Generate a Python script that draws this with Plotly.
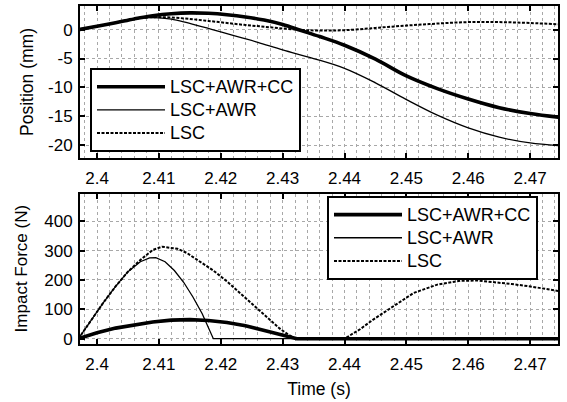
import plotly.graph_objects as go

# ---------------- data ----------------
names = ["LSC+AWR+CC", "LSC+AWR", "LSC"]

# Position (mm)
t_pos_cc = [2.397, 2.4, 2.403, 2.406, 2.409, 2.412, 2.415, 2.418, 2.421, 2.424,
            2.427, 2.43, 2.433, 2.436, 2.44, 2.445, 2.45, 2.455, 2.46, 2.465,
            2.47, 2.475]
pos_cc = [0, 0.6, 1.2, 1.85, 2.4, 2.75, 2.9, 2.82, 2.58, 2.2,
          1.65, 0.9, -0.15, -1.2, -2.7, -5.1, -8.0, -10.2, -12.0, -13.5,
          -14.5, -15.2]

t_pos_awr = [2.397, 2.4, 2.403, 2.406, 2.408, 2.41, 2.412, 2.414, 2.416, 2.418,
             2.42, 2.423, 2.426, 2.43, 2.435, 2.44, 2.445, 2.45, 2.455, 2.46,
             2.465, 2.47, 2.475]
pos_awr = [0, 0.6, 1.2, 1.85, 2.08, 2.05, 1.8, 1.35, 0.8, 0.2,
           -0.4, -1.3, -2.2, -3.5, -5.0, -6.7, -9.2, -12.1, -14.8, -17.0,
           -18.6, -19.6, -20.1]

t_pos_lsc = [2.397, 2.4, 2.403, 2.406, 2.409, 2.412, 2.415, 2.418, 2.421, 2.424,
             2.427, 2.43, 2.433, 2.436, 2.44, 2.445, 2.45, 2.455, 2.46, 2.465,
             2.47, 2.475]
pos_lsc = [0, 0.6, 1.2, 1.85, 2.15, 2.1, 1.85, 1.5, 1.15, 0.8,
           0.5, 0.2, -0.05, -0.15, -0.1, 0.3, 0.7, 1.05, 1.3, 1.3,
           1.15, 0.9]

# Impact force (N)
t_f_cc = [2.397, 2.4, 2.403, 2.406, 2.409, 2.412, 2.415, 2.418, 2.421, 2.424,
          2.427, 2.43, 2.4323, 2.475]
f_cc = [0, 20, 36, 48, 57, 63, 65, 62, 55, 44, 29, 12, 0, 0]

t_f_awr = [2.397, 2.399, 2.401, 2.403, 2.405, 2.407, 2.4085, 2.4095, 2.411,
           2.4125, 2.414, 2.4155, 2.417, 2.4188, 2.475]
f_awr = [0, 62, 122, 178, 228, 262, 275, 276, 262, 232, 192, 142, 85, 0, 0]

t_f_lsc = [2.397, 2.399, 2.401, 2.403, 2.405, 2.407, 2.409, 2.4105, 2.413,
           2.4145, 2.4165, 2.4188, 2.421, 2.4231, 2.4255, 2.4275, 2.4295,
           2.4307, 2.432, 2.44, 2.4425, 2.4447, 2.4479, 2.4512, 2.455,
           2.4587, 2.4615, 2.4641, 2.467, 2.47, 2.4746]
f_lsc = [0, 62, 122, 178, 228, 268, 302, 313, 306, 292, 265, 232, 195, 156,
         112, 72, 35, 17, 0, 0, 32, 66, 111, 156, 184, 197, 198, 193, 186,
         178, 162]

x_ticks = [2.4, 2.41, 2.42, 2.43, 2.44, 2.45, 2.46, 2.47]
x_ticklabels = ["2.4", "2.41", "2.42", "2.43", "2.44", "2.45", "2.46", "2.47"]
pos_ticks = [0, -5, -10, -15, -20]
pos_ticklabels = ["0", "-5", "-10", "-15", "-20"]
f_ticks = [0, 100, 200, 300, 400]
f_ticklabels = ["0", "100", "200", "300", "400"]

# ---------------- figure ----------------
W, H = 567, 402
FONT = "Arial, Liberation Sans, Helvetica, sans-serif"
styles = [dict(color="black", width=3.6),
          dict(color="black", width=1.3),
          dict(color="black", width=2, dash="3px,1.5px")]


def legend_label(n):
    # larger glyphs inside a legend whose row pitch follows its base font
    return '<span style="font-size:18px">' + n + "</span>"


fig = go.Figure()
pos_series = [(t_pos_cc, pos_cc), (t_pos_awr, pos_awr), (t_pos_lsc, pos_lsc)]
for n, (ts, ys), st in zip(names, pos_series, styles):
    fig.add_trace(go.Scatter(x=ts, y=ys, mode="lines", name=legend_label(n),
                             line=st, line_shape="spline", xaxis="x", yaxis="y",
                             legend="legend"))
f_series = [(t_f_cc, f_cc), (t_f_awr, f_awr), (t_f_lsc, f_lsc)]
for n, (ts, ys), st in zip(names, f_series, styles):
    fig.add_trace(go.Scatter(x=ts, y=ys, mode="lines", name=legend_label(n),
                             line=st, xaxis="x2", yaxis="y2", legend="legend2"))

grid = "#a8a8a8"
TICKFONT = dict(size=17, color="black")
common_x = dict(range=[2.39725, 2.4745], tickvals=x_ticks, ticktext=x_ticklabels,
                showline=True, linecolor="black", linewidth=2, mirror="ticks",
                ticks="inside", ticklen=5, tickwidth=2, tickcolor="black",
                ticklabelstandoff=4,
                showgrid=True, gridcolor=grid, griddash="dot", gridwidth=1,
                minor=dict(tick0=2.4, dtick=0.002, showgrid=True, gridcolor=grid,
                           griddash="dot", gridwidth=1, ticks=""),
                zeroline=False, tickfont=TICKFONT)
common_y = dict(showline=True, linecolor="black", linewidth=2, mirror="ticks",
                ticks="inside", ticklen=5, tickwidth=2, tickcolor="black",
                ticklabelstandoff=2,
                showgrid=True, gridcolor=grid, griddash="dot", gridwidth=1,
                zeroline=False, tickfont=TICKFONT)

xd = [80 / W, 558 / W]
LEGFONT = dict(size=15.5, color="black")
fig.update_layout(
    width=W, height=H, margin=dict(l=0, r=0, t=0, b=0),
    paper_bgcolor="white", plot_bgcolor="white",
    font=dict(family=FONT, color="black", size=17),
    xaxis=dict(domain=xd, anchor="y", **common_x),
    yaxis=dict(domain=[1 - 160 / H, 1 - 6 / H], anchor="x", range=[-22.2, 4.1],
               tickvals=pos_ticks, ticktext=pos_ticklabels,
               title=dict(text="Position (mm)", font=dict(size=17.5), standoff=10),
               **common_y),
    xaxis2=dict(domain=xd, anchor="y2",
                title=dict(text="Time (s)", font=dict(size=17.5), standoff=10),
                **common_x),
    yaxis2=dict(domain=[1 - 348 / H, 1 - 196 / H], anchor="x2", range=[-17, 494],
                tickvals=f_ticks, ticktext=f_ticklabels,
                title=dict(text="Impact Force (N)", font=dict(size=17), standoff=12),
                **common_y),
    legend=dict(x=90 / W, y=1 - 111.5 / H, xanchor="left", yanchor="middle",
                bordercolor="black", borderwidth=2, bgcolor="white",
                font=LEGFONT, itemwidth=68, tracegroupgap=0),
    legend2=dict(x=327 / W, y=1 - 241 / H, xanchor="left", yanchor="middle",
                 bordercolor="black", borderwidth=2, bgcolor="white",
                 font=LEGFONT, itemwidth=68, tracegroupgap=0),
    showlegend=True,
)

fig.write_html("out.html")
